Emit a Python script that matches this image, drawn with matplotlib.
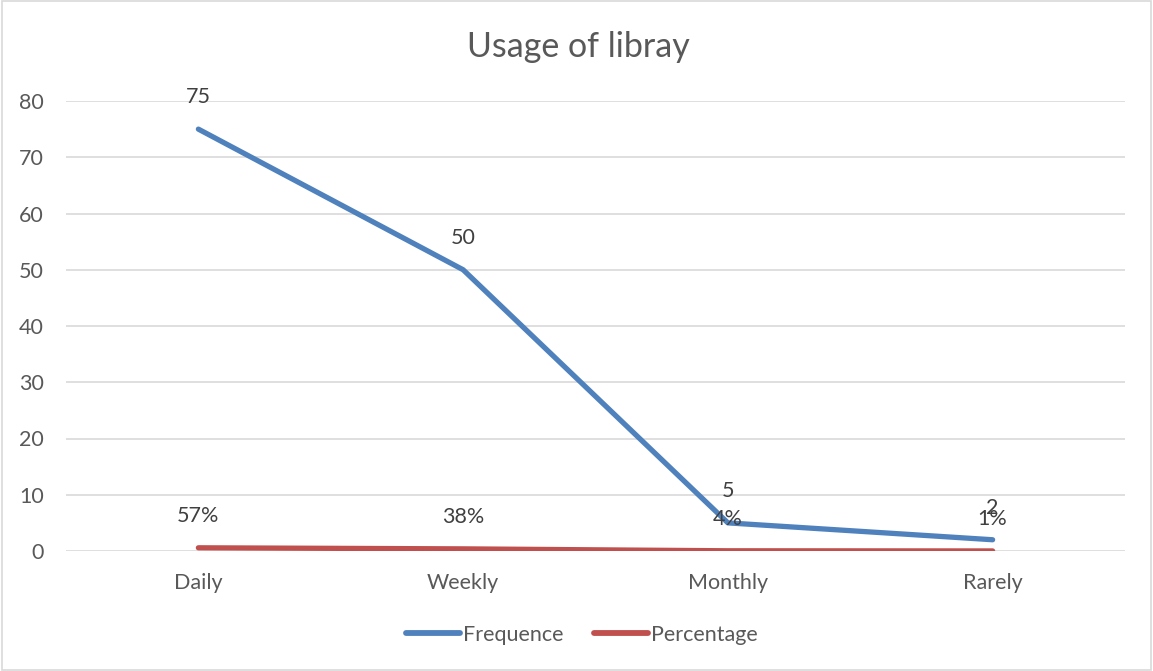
import matplotlib
matplotlib.use("Agg")
import matplotlib.pyplot as plt
from matplotlib.lines import Line2D
from matplotlib.patches import Rectangle

categories = ["Daily", "Weekly", "Monthly", "Rarely"]
frequence = [75, 50, 5, 2]
percentage = [0.57, 0.38, 0.04, 0.01]
percentage_labels = ["57%", "38%", "4%", "1%"]
title = "Usage of libray"

plt.rcParams['font.family'] = ['Lato', 'DejaVu Sans']
txt = '#595959'
blue = '#4F81BD'
red = '#C0504D'

fig = plt.figure(figsize=(11.53, 6.71), dpi=100)
fig.patches.append(Rectangle((0.002, 0.002), 0.996, 0.996, transform=fig.transFigure,
                             fill=False, edgecolor='#D9D9D9', linewidth=1.2))
ax = fig.add_axes([66/1153, 1-551/671, 1059/1153, 450/671])
x = list(range(len(categories)))
ax.plot(x, frequence, color=blue, linewidth=3.8, solid_capstyle='round', zorder=3)
ax.plot(x, percentage, color=red, linewidth=3.8, solid_capstyle='round', zorder=3)
ax.set_xlim(-0.5, 3.5)
ax.set_ylim(0, 80)
ax.set_yticks(range(0, 81, 10))
ax.set_xticks(x)
ax.set_xticklabels(categories)
ax.grid(axis='y', color='#D9D9D9', linewidth=1.2)
ax.set_axisbelow(True)
for s in ax.spines.values():
    s.set_visible(False)
ax.tick_params(length=0, labelsize=15.5, colors=txt)
ax.tick_params(axis='x', pad=16)
ax.tick_params(axis='y', pad=16)

for xi, v in zip(x, frequence):
    ax.annotate(str(v), (xi, v), xytext=(0, 23), textcoords='offset points',
                ha='center', va='center', fontsize=15.5, color='#404040')
for xi, v, l in zip(x, percentage, percentage_labels):
    ax.annotate(l, (xi, v), xytext=(0, 23), textcoords='offset points',
                ha='center', va='center', fontsize=15.5, color='#404040')

fig.text(578/1153, 1-47/671, title, ha='center', va='center', fontsize=24.5, color=txt)

handles = [Line2D([], [], color=blue, linewidth=4.2, solid_capstyle='round'),
           Line2D([], [], color=red, linewidth=4.2, solid_capstyle='round')]
fig.legend(handles, ["Frequence", "Percentage"], loc='center', bbox_to_anchor=(582/1153, 1-635/671),
           ncol=2, frameon=False, fontsize=15.5, labelcolor=txt, handlelength=2.5, handletextpad=0.15,
           columnspacing=1.4)

fig.savefig("out.png", dpi=100)
